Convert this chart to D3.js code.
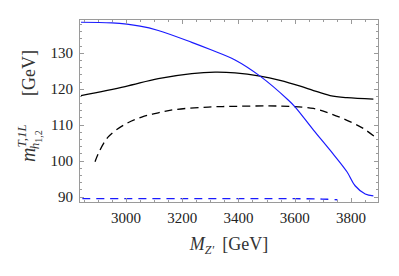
<!DOCTYPE html>
<html>
<head>
<meta charset="utf-8">
<script src="https://cdn.jsdelivr.net/npm/d3@7"></script>
<style>
  body { margin: 0; background: #fff; }
  text { font-family: "Liberation Serif", "DejaVu Serif", serif; }
</style>
</head>
<body>
<svg id="chart" width="399" height="276"></svg>
<script>
var width = 399, height = 276;
var margin = {top: 19, right: 20, bottom: 73, left: 79};

// values (GeV)
var blueSolidX = [2840, 2950, 3050, 3115, 3234, 3300, 3388, 3477, 3578, 3602, 3667, 3726, 3786, 3815, 3851, 3880];
var blueSolidY = [138.5, 138.3, 137.4, 136.2, 132.9, 130.9, 128.0, 123.5, 116.8, 114.9, 108.5, 102.9, 96.9, 93.0, 90.7, 90.2];

var blackSolidX = [2840, 2997, 3115, 3234, 3317, 3388, 3477, 3548, 3620, 3667, 3726, 3786, 3880];
var blackSolidY = [118.1, 120.6, 122.8, 124.2, 124.6, 124.4, 123.5, 122.3, 120.7, 119.5, 118.1, 117.5, 117.1];

var blackDashX = [2890, 2902, 2937, 2997, 3056, 3115, 3175, 3293, 3388, 3500, 3584, 3667, 3726, 3786, 3845, 3885];
var blackDashY = [99.7, 102.0, 106.6, 110.1, 112.1, 113.3, 114.2, 114.9, 115.1, 115.2, 115.1, 114.5, 113.1, 111.2, 108.9, 106.6];

var blueDashX = [2845, 3200, 3600, 3700, 3752];
var blueDashY = [89.4, 89.4, 89.4, 89.3, 89.1];

var xTicks = [3000, 3200, 3400, 3600, 3800];
var yTicks = [90, 100, 110, 120, 130];

var x = d3.scaleLinear().domain([2833, 3900]).range([margin.left, width - margin.right]);
var y = d3.scaleLinear().domain([88.2, 139.4]).range([height - margin.bottom, margin.top]);

var svg = d3.select("#chart");

function pts(xs, ys) { return xs.map((d, i) => [d, ys[i]]); }

var line = d3.line()
    .x(d => x(d[0]))
    .y(d => y(d[1]))
    .curve(d3.curveCatmullRom.alpha(0.5));

var x0 = margin.left, x1 = width - margin.right;
var y0 = height - margin.bottom, y1 = margin.top;

// clip to frame
svg.append("clipPath").attr("id", "clip")
  .append("rect").attr("x", x0).attr("y", y1).attr("width", x1 - x0).attr("height", y0 - y1);

var plot = svg.append("g").attr("clip-path", "url(#clip)");

plot.append("path").datum(pts(blackSolidX, blackSolidY))
    .attr("d", line).attr("fill", "none").attr("stroke", "#000").attr("stroke-width", 1.3);
plot.append("path").datum(pts(blackDashX, blackDashY))
    .attr("d", line).attr("fill", "none").attr("stroke", "#000").attr("stroke-width", 1.3)
    .attr("stroke-dasharray", "8,5");
plot.append("path").datum(pts(blueDashX, blueDashY))
    .attr("d", line).attr("fill", "none").attr("stroke", "#1a1aff").attr("stroke-width", 1.3)
    .attr("stroke-dasharray", "8,6");
plot.append("path").datum(pts(blueSolidX, blueSolidY))
    .attr("d", line).attr("fill", "none").attr("stroke", "#1a1aff").attr("stroke-width", 1.2);

// frame with inward ticks (Mathematica style)
var frameColor = "#9a9a9a";
var xMinor = d3.range(2850, 3900, 50).filter(v => xTicks.indexOf(v) < 0);
var yMinor = d3.range(90, 139.5, 2).filter(v => yTicks.indexOf(v) < 0);

var fr = svg.append("g").attr("stroke", frameColor).attr("stroke-width", 1);

function tick(x_1, y_1, x_2, y_2) {
  fr.append("line").attr("x1", x_1).attr("y1", y_1).attr("x2", x_2).attr("y2", y_2);
}

xTicks.forEach(v => { var p = Math.round(x(v)) + 0.5; tick(p, y0, p, y0 - 5); tick(p, y1, p, y1 + 5); });
xMinor.forEach(v => { var p = Math.round(x(v)) + 0.5; tick(p, y0, p, y0 - 3); tick(p, y1, p, y1 + 3); });
yTicks.forEach(v => { var p = Math.round(y(v)) + 0.5; tick(x0, p, x0 + 5, p); tick(x1, p, x1 - 5, p); });
yMinor.forEach(v => { var p = Math.round(y(v)) + 0.5; tick(x0, p, x0 + 3, p); tick(x1, p, x1 - 3, p); });

fr.append("rect").attr("x", x0 + 0.5).attr("y", y1 + 0.5)
  .attr("width", x1 - x0 - 1).attr("height", y0 - y1 - 1).attr("fill", "none");

// tick labels
svg.append("g").selectAll("text").data(xTicks).join("text")
  .attr("x", d => x(d)).attr("y", y0 + 20)
  .attr("text-anchor", "middle").attr("font-size", 15).attr("fill", "#222")
  .text(d => d);

svg.append("g").selectAll("text").data(yTicks).join("text")
  .attr("x", x0 - 6).attr("y", d => y(d) + 5)
  .attr("text-anchor", "end").attr("font-size", 15).attr("fill", "#222")
  .text(d => d);

// x axis label: M_{Z'} [GeV]
var xl = svg.append("text")
  .attr("x", (x0 + x1) / 2).attr("y", 250)
  .attr("text-anchor", "middle").attr("font-size", 18).attr("fill", "#333");
xl.append("tspan").attr("font-style", "italic").text("M");
xl.append("tspan").attr("font-style", "italic").attr("font-size", 12).attr("dy", 4).text("Z\u2032");
xl.append("tspan").attr("dy", -4).text("\u2009 [GeV]");

// y axis label: m^{T,1L}_{h_{1,2}} [GeV]
var yl = svg.append("text")
  .attr("transform", "translate(35,162) rotate(-90)")
  .attr("text-anchor", "start").attr("font-size", 20).attr("fill", "#333");
yl.append("tspan").attr("font-style", "italic").text("m");
yl.append("tspan").attr("font-style", "italic").attr("font-size", 13).attr("dy", -9).text("T,1L");
yl.append("tspan").attr("font-style", "italic").attr("font-size", 13).attr("dx", -25).attr("dy", 13).text("h");
yl.append("tspan").attr("font-size", 10).attr("dy", 3).text("1,2");

svg.append("text")
  .attr("transform", "translate(35,50) rotate(-90)")
  .attr("text-anchor", "end").attr("font-size", 18).attr("fill", "#333")
  .text("[GeV]");
</script>
</body>
</html>
